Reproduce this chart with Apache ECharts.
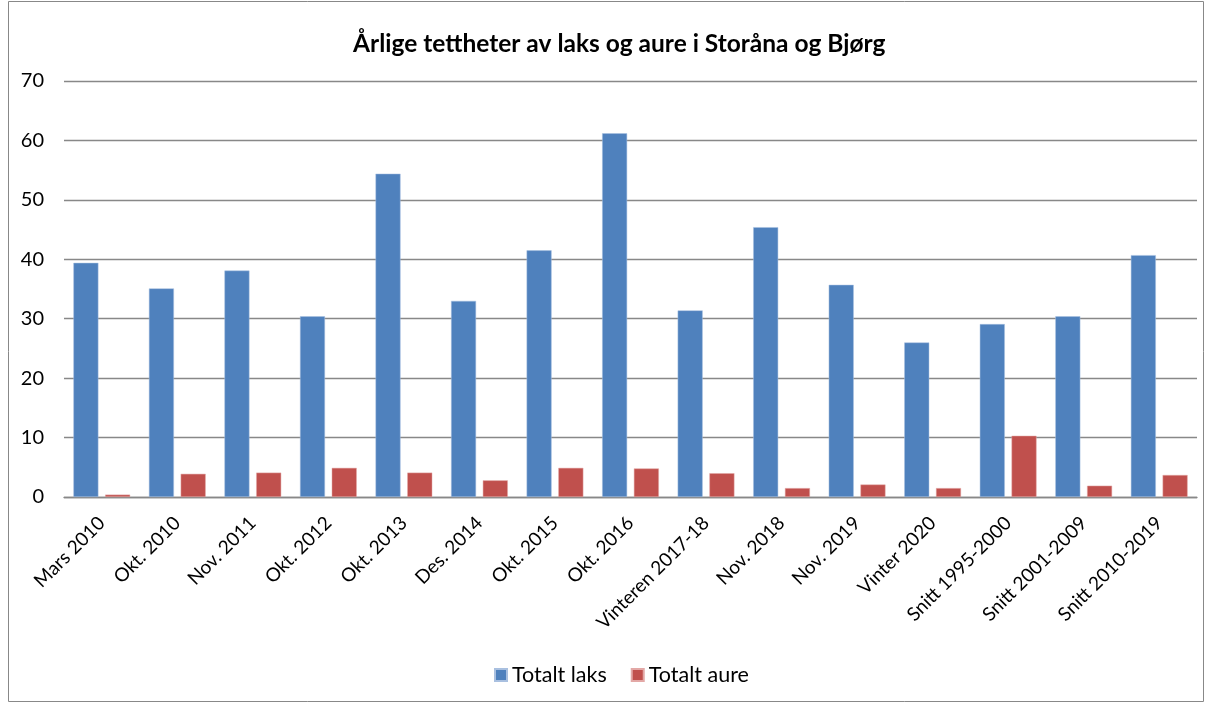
<!DOCTYPE html>
<html>
<head>
<meta charset="utf-8">
<script src="https://cdn.jsdelivr.net/npm/echarts@6/dist/echarts.min.js"></script>
<style>
html, body { margin: 0; padding: 0; background: #fff; }
#chart { width: 1206px; height: 703px; }
</style>
</head>
<body>
<div id="chart"></div>
<script>
var categories = ["Mars 2010", "Okt. 2010", "Nov. 2011", "Okt. 2012", "Okt. 2013", "Des. 2014", "Okt. 2015", "Okt. 2016", "Vinteren 2017-18", "Nov. 2018", "Nov. 2019", "Vinter 2020", "Snitt 1995-2000", "Snitt 2001-2009", "Snitt 2010-2019"];
var laks = [39.4, 35.1, 38.1, 30.4, 54.4, 33.0, 41.5, 61.2, 31.4, 45.4, 35.7, 26.0, 29.1, 30.4, 40.7];
var aure = [0.4, 3.9, 4.1, 4.9, 4.1, 2.8, 4.9, 4.8, 4.0, 1.5, 2.1, 1.5, 10.3, 1.9, 3.7];

var font = "Lato, 'Open Sans', sans-serif";
var myChart = echarts.init(document.getElementById('chart'));
var option = {
    animation: false,
    textStyle: { fontFamily: font },
    graphic: [
        {
            type: "rect",
            shape: { x: 8.5, y: 1.5, width: 1195, height: 700 },
            style: { fill: "none", stroke: "#888888", lineWidth: 1 },
            silent: true
        }
    ],
    title: {
        text: "Årlige tettheter av laks og aure i Storåna og Bjørg",
        left: 348,
        top: 27,
        textStyle: { fontFamily: font, fontSize: 24.5, fontWeight: "bold", color: "#000" }
    },
    legend: {
        data: ["Totalt laks", "Totalt aure"],
        top: 659,
        left: 489,
        itemWidth: 12,
        itemHeight: 12,
        itemGap: 24,
        icon: "rect",
        textStyle: { fontFamily: font, fontSize: 21.5, color: "#000" }
    },
    grid: {
        left: 64,
        right: 9,
        top: 81,
        bottom: 206,
        containLabel: false
    },
    xAxis: [
        {
            type: "category",
            data: categories,
            axisTick: { show: false },
            axisLine: { show: true, lineStyle: { color: "#888888", width: 1.3 } },
            axisLabel: {
                rotate: 45,
                interval: 0,
                margin: 23,
                fontFamily: font,
                fontSize: 19,
                color: "#000"
            }
        }
    ],
    yAxis: [
        {
            type: "value",
            min: 0,
            max: 70,
            interval: 10,
            axisLine: { show: false },
            axisTick: { show: false },
            axisLabel: { margin: 20, fontFamily: font, fontSize: 20, color: "#000" },
            splitLine: { lineStyle: { color: "#888888", width: 1.3 } }
        }
    ],
    series: [
        {
            name: "Totalt laks",
            type: "bar",
            data: laks,
            barWidth: 25,
            barGap: "27%",
            itemStyle: { color: "#4F81BD", borderColor: "#A9C0E0", borderWidth: 0.5 }
        },
        {
            name: "Totalt aure",
            type: "bar",
            data: aure,
            barWidth: 25,
            itemStyle: { color: "#C0504D", borderColor: "#E3A8A6", borderWidth: 0.5 }
        }
    ]
};
myChart.setOption(option);
</script>
</body>
</html>
